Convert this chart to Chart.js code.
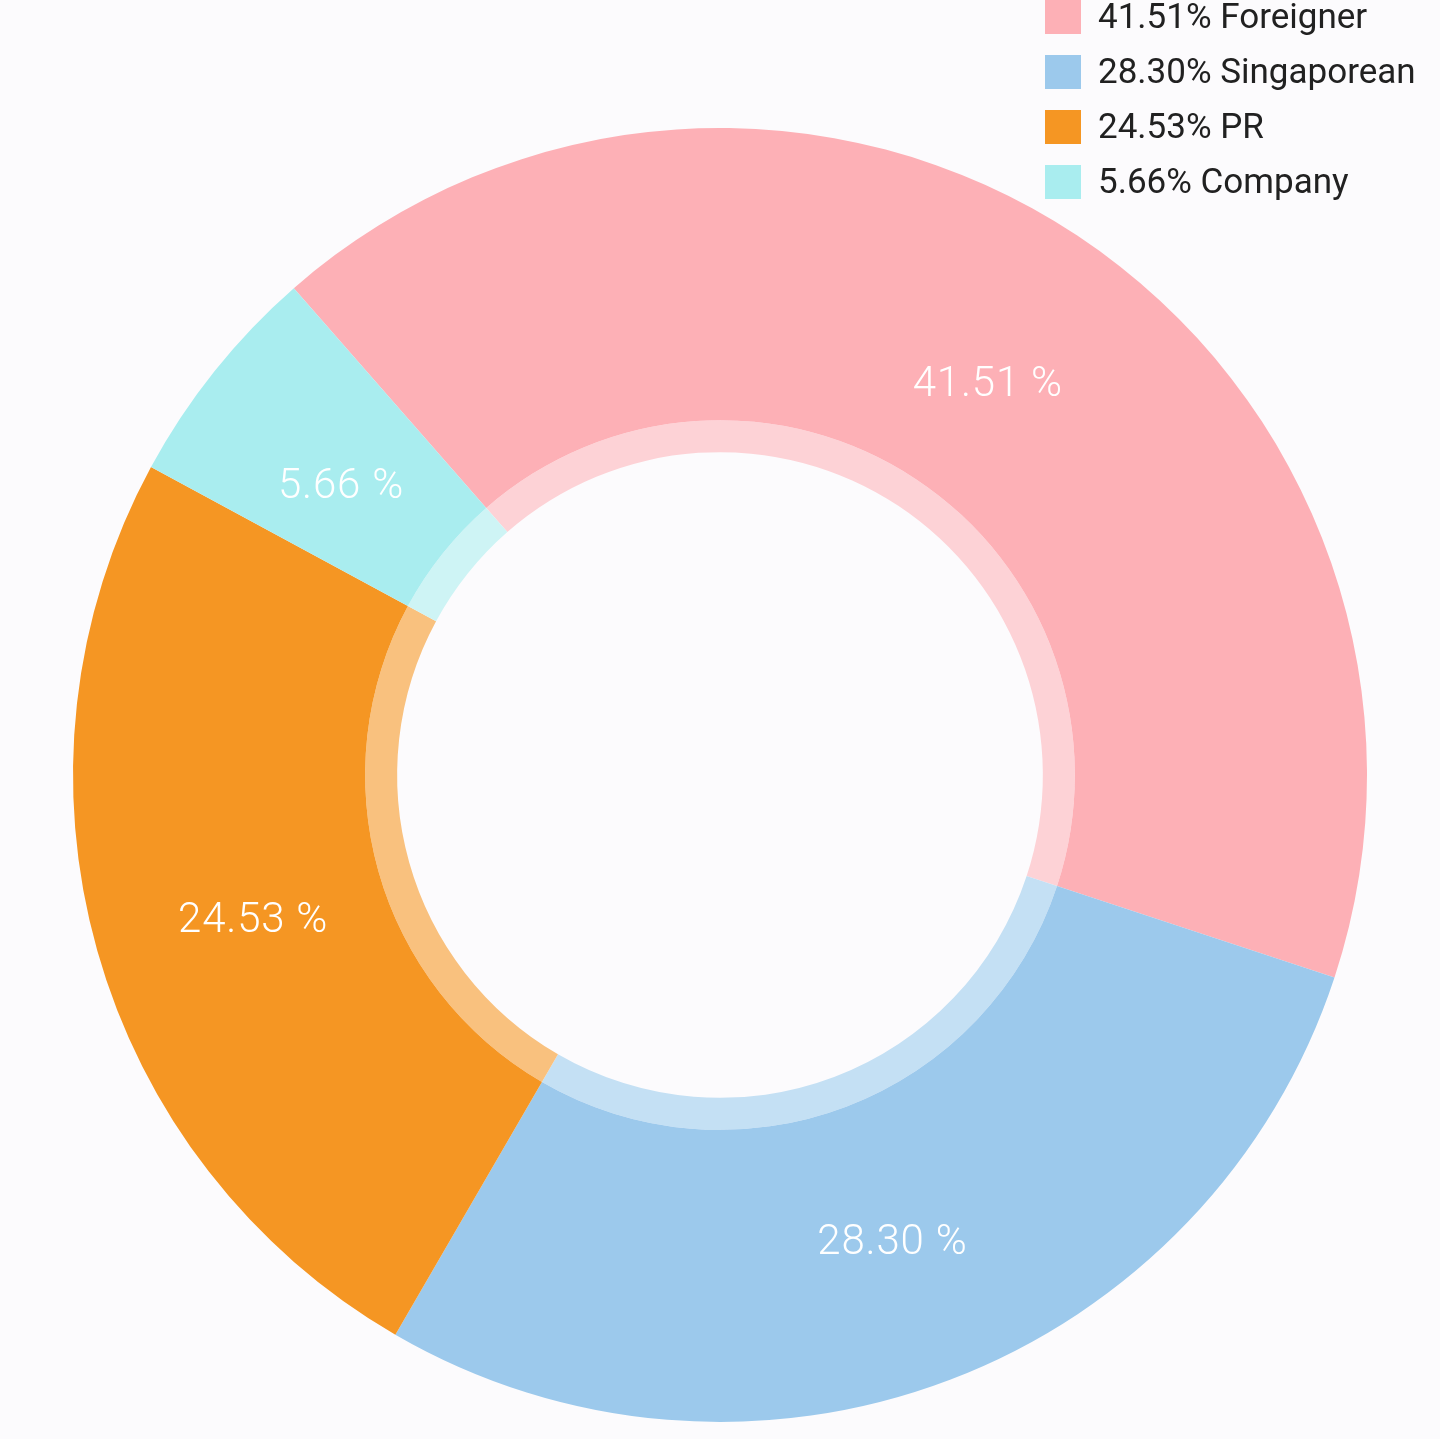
<!DOCTYPE html>
<html><head><meta charset="utf-8">
<script src="https://cdn.jsdelivr.net/npm/chart.js@4.4.1/dist/chart.umd.min.js"></script>
<style>html,body{margin:0;padding:0;background:#FCFBFD;}#wrap{width:1440px;height:1439px;position:relative;}</style>
</head><body><div id="wrap"><canvas id="c" width="1440" height="1439"></canvas></div>
<script>
const categories = ['Foreigner', 'Singaporean', 'PR', 'Company'];
const percentValues = [41.51, 28.30, 24.53, 5.66];
const mainColors = ['#FDB0B6', '#9CC9EC', '#F59623', '#A9EDEF'];
const lightColors = ['#FDD2D6', '#C4E0F4', '#F9C17E', '#CEF4F5'];

const labelPlugin = {
  id: 'sliceLabels',
  afterDatasetsDraw(chart) {
    const ctx = chart.ctx;
    const meta = chart.getDatasetMeta(0);
    ctx.save();
    ctx.font = '300 42px Roboto';
    ctx.letterSpacing = '0.8px';
    ctx.fillStyle = '#FFFFFF';
    ctx.textAlign = 'center';
    ctx.textBaseline = 'middle';
    meta.data.forEach((arc, i) => {
      const p = arc.getProps(['x','y','startAngle','endAngle'], true);
      const mid = (p.startAngle + p.endAngle) / 2;
      const r = 485;
      ctx.fillText(percentValues[i].toFixed(2) + ' %', p.x + Math.cos(mid) * r, p.y + Math.sin(mid) * r + 15);
    });
    ctx.restore();
  },
  afterDraw(chart) {
    const ctx = chart.ctx;
    ctx.save();
    ctx.font = '35px Roboto';
    ctx.textBaseline = 'middle';
    ctx.textAlign = 'left';
    categories.forEach((c, i) => {
      const cy = 17 + i * 55;
      ctx.fillStyle = mainColors[i];
      ctx.fillRect(1045, cy - 17, 36, 34);
      ctx.fillStyle = '#212121';
      ctx.fillText(percentValues[i].toFixed(2) + '% ' + c, 1098, cy + 2);
    });
    ctx.restore();
  }
};

new Chart(document.getElementById('c'), {
  type: 'doughnut',
  data: {
    labels: categories,
    datasets: [
      { data: percentValues, backgroundColor: mainColors, borderWidth: 0, weight: 292 },
      { data: percentValues, backgroundColor: lightColors, borderWidth: 0, weight: 32 }
    ]
  },
  options: {
    responsive: false,
    animation: false,
    rotation: -41.2,
    cutout: '49.9%',
    layout: { padding: { top: 128, bottom: 17, left: 73, right: 73 } },
    plugins: { legend: { display: false }, tooltip: { enabled: false } }
  },
  plugins: [labelPlugin]
});
</script></body></html>
